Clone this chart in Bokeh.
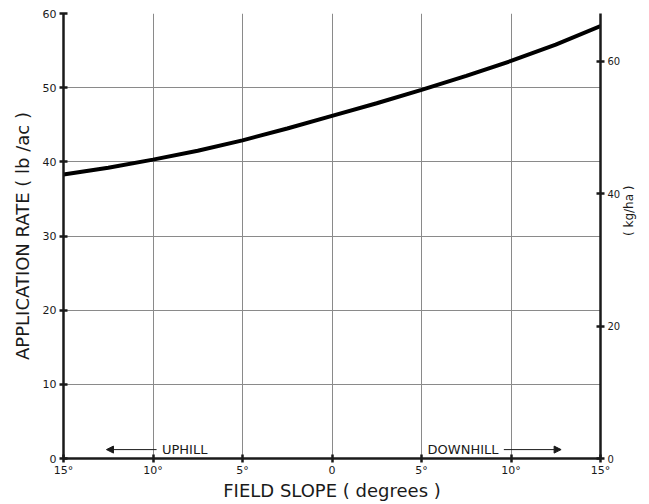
import math
from bokeh.plotting import figure
from bokeh.models import Range1d, LinearAxis, FixedTicker, Arrow, NormalHead, Label
from bokeh.embed import file_html
from bokeh.resources import INLINE

# Data (field slope: negative = uphill, positive = downhill)
slope = [-15, -12.5, -10, -7.5, -5, -2.5, 0, 2.5, 5, 7.5, 10, 12.5, 15]
rate_lb_ac = [38.3, 39.2, 40.3, 41.5, 42.9, 44.5, 46.2, 47.9, 49.7, 51.6, 53.6, 55.8, 58.3]
x_ticks = [-15, -10, -5, 0, 5, 10, 15]
x_tick_labels = ["15°", "10°", "5°", "0", "5°", "10°", "15°"]
y_ticks = [0, 10, 20, 30, 40, 50, 60]
kg_ticks = [0, 20, 40, 60]
LB_TO_KG = 1.1209

FONT = "DejaVu Sans"
INK = "#1a1a1a"

p = figure(width=646, height=503, output_backend="svg", toolbar_location=None,
           x_range=Range1d(-15, 15), y_range=Range1d(0, 60),
           min_border_left=63, min_border_right=46, min_border_top=13, min_border_bottom=41)
p.outline_line_color = None
p.background_fill_color = "white"

p.extra_y_ranges = {"kg": Range1d(0, 60 * LB_TO_KG)}

# grid
for g in (p.xgrid, p.ygrid):
    g.grid_line_color = "#8a8a8a"
    g.grid_line_width = 1
p.xgrid.ticker = FixedTicker(ticks=x_ticks)
p.ygrid.ticker = FixedTicker(ticks=y_ticks)

def style_axis(ax):
    ax.axis_line_color = INK
    ax.axis_line_width = 2.5
    ax.major_tick_line_color = INK
    ax.major_tick_line_width = 2.5
    ax.major_tick_in = 4
    ax.major_tick_out = 4
    ax.minor_tick_line_color = None
    ax.major_label_text_font = FONT
    ax.major_label_text_color = INK
    ax.major_label_text_font_size = "11px"
    ax.axis_label_text_font = FONT
    ax.axis_label_text_color = INK
    ax.axis_label_text_font_style = "normal"

xa = p.xaxis[0]
style_axis(xa)
xa.ticker = FixedTicker(ticks=x_ticks)
xa.major_label_overrides = {t: l for t, l in zip(x_ticks, x_tick_labels)}
xa.axis_label = "FIELD SLOPE ( degrees )"
xa.axis_label_text_font_size = "18px"
xa.axis_label_standoff = 0
xa.major_label_standoff = 1

ya = p.yaxis[0]
style_axis(ya)
ya.ticker = FixedTicker(ticks=y_ticks)
ya.axis_label = "APPLICATION RATE ( lb /ac )"
ya.axis_label_text_font_size = "18px"
ya.axis_label_standoff = 7
ya.major_label_standoff = 3

ra = LinearAxis(y_range_name="kg")
style_axis(ra)
ra.ticker = FixedTicker(ticks=kg_ticks)
ra.major_label_text_font_size = "10px"
ra.major_label_standoff = 3
ra.axis_label = "( kg/ha )"
ra.axis_label_text_font_size = "12px"
ra.axis_label_standoff = 6
ra.axis_label_orientation = math.pi / 2
p.add_layout(ra, "right")

# curve
p.line(slope, rate_lb_ac, line_color="black", line_width=4)

# direction annotations
p.add_layout(Arrow(end=NormalHead(size=7, fill_color=INK, line_color=INK),
                   x_start=-9.8, y_start=1.2, x_end=-12.6, y_end=1.2,
                   line_color=INK, line_width=1))
p.add_layout(Label(x=-9.5, y=1.2, text="UPHILL", text_font=FONT, text_font_size="13px",
                   text_color=INK, text_baseline="middle"))
p.add_layout(Arrow(end=NormalHead(size=7, fill_color=INK, line_color=INK),
                   x_start=9.6, y_start=1.2, x_end=12.8, y_end=1.2,
                   line_color=INK, line_width=1))
p.add_layout(Label(x=9.3, y=1.2, text="DOWNHILL", text_font=FONT, text_font_size="13px",
                   text_color=INK, text_baseline="middle", text_align="right"))

open("out.html", "w").write(file_html(p, INLINE))
